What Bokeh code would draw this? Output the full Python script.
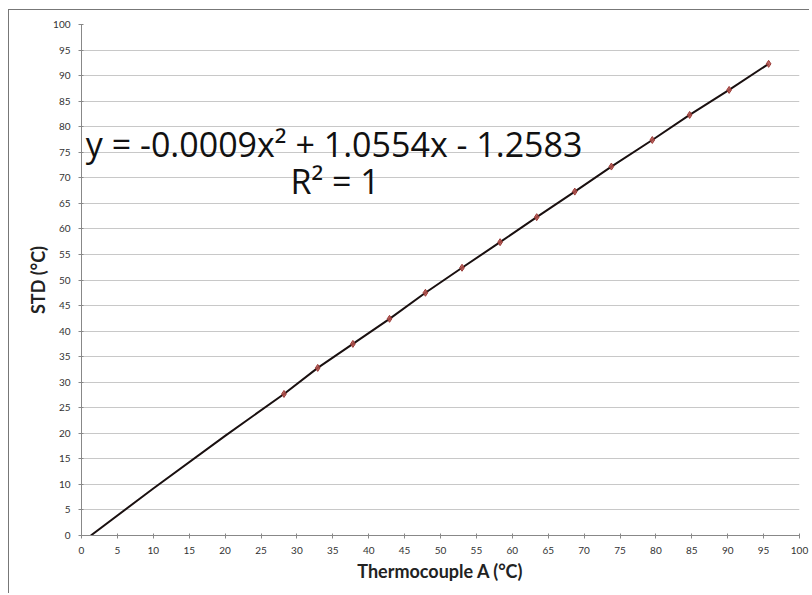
from bokeh.plotting import figure
from bokeh.models import Range1d, FixedTicker
from bokeh.core.properties import value
from bokeh.embed import file_html
from bokeh.resources import INLINE

# Data
thermo_a = [28.2, 32.9, 37.8, 42.9, 47.9, 53.0, 58.3, 63.4, 68.7, 73.8, 79.5, 84.7, 90.2, 95.7]
std_c = [27.7, 32.8, 37.5, 42.4, 47.5, 52.4, 57.4, 62.3, 67.3, 72.2, 77.4, 82.3, 87.2, 92.3]
trend_x = [1.3, 10.0, 20.0] + thermo_a
trend_y = [0.0, 9.2, 19.5] + std_c
ticks = list(range(0, 101, 5))
eq_text = ["y = -0.0009x² + 1.0554x - 1.2583"]
r2_text = ["R² = 1"]

FONT = "Lato"

p = figure(width=801, height=584, output_backend="svg", toolbar_location=None,
           x_range=Range1d(0, 100), y_range=Range1d(0, 100),
           min_border_left=72, min_border_right=11, min_border_top=14, min_border_bottom=59,
           background_fill_color="white", border_fill_color="white",
           outline_line_color=None,
           styles={"margin-left": "8px", "margin-top": "9px",
                   "border-top": "1px solid #777", "border-left": "1px solid #777"})

for ax in (p.xaxis, p.yaxis):
    ax.ticker = FixedTicker(ticks=ticks)
    ax.axis_line_color = "#888888"
    ax.major_tick_line_color = "#888888"
    ax.major_tick_out = 3
    ax.major_tick_in = 2
    ax.minor_tick_line_color = None
    ax.major_label_text_font = FONT
    ax.major_label_text_font_size = "10px"
    ax.major_label_text_color = "#333333"
    ax.axis_label_text_font = FONT
    ax.axis_label_text_font_style = "bold"
    ax.axis_label_text_font_size = "18px"
    ax.axis_label_text_color = "#222222"

p.xaxis.axis_label = "Thermocouple A (°C)"
p.yaxis.axis_label = "STD (°C)"
p.xaxis.major_label_standoff = 8
p.yaxis.major_label_standoff = 8
p.xaxis.axis_label_standoff = 3
p.yaxis.axis_label_standoff = 1

p.xgrid.grid_line_color = None
p.ygrid.grid_line_color = "#c8c8c8"
p.ygrid.grid_line_width = 1

p.line(trend_x, trend_y, line_color="#1a1010", line_width=2)
p.scatter(thermo_a, std_c, marker="diamond", size=7, fill_color="#b5524d",
          line_color="#9a3a36", fill_alpha=0.85)

p.text(x=[0.6], y=[76.7], text=eq_text, text_font=value("Open Sans"), text_font_size="34px",
       text_color="#111111", text_baseline="alphabetic", text_align="left")
p.text(x=[29.1], y=[69.3], text=r2_text, text_font=value("Open Sans"), text_font_size="34px",
       text_color="#111111", text_baseline="alphabetic", text_align="left")

open("out.html", "w").write(file_html(p, INLINE))
